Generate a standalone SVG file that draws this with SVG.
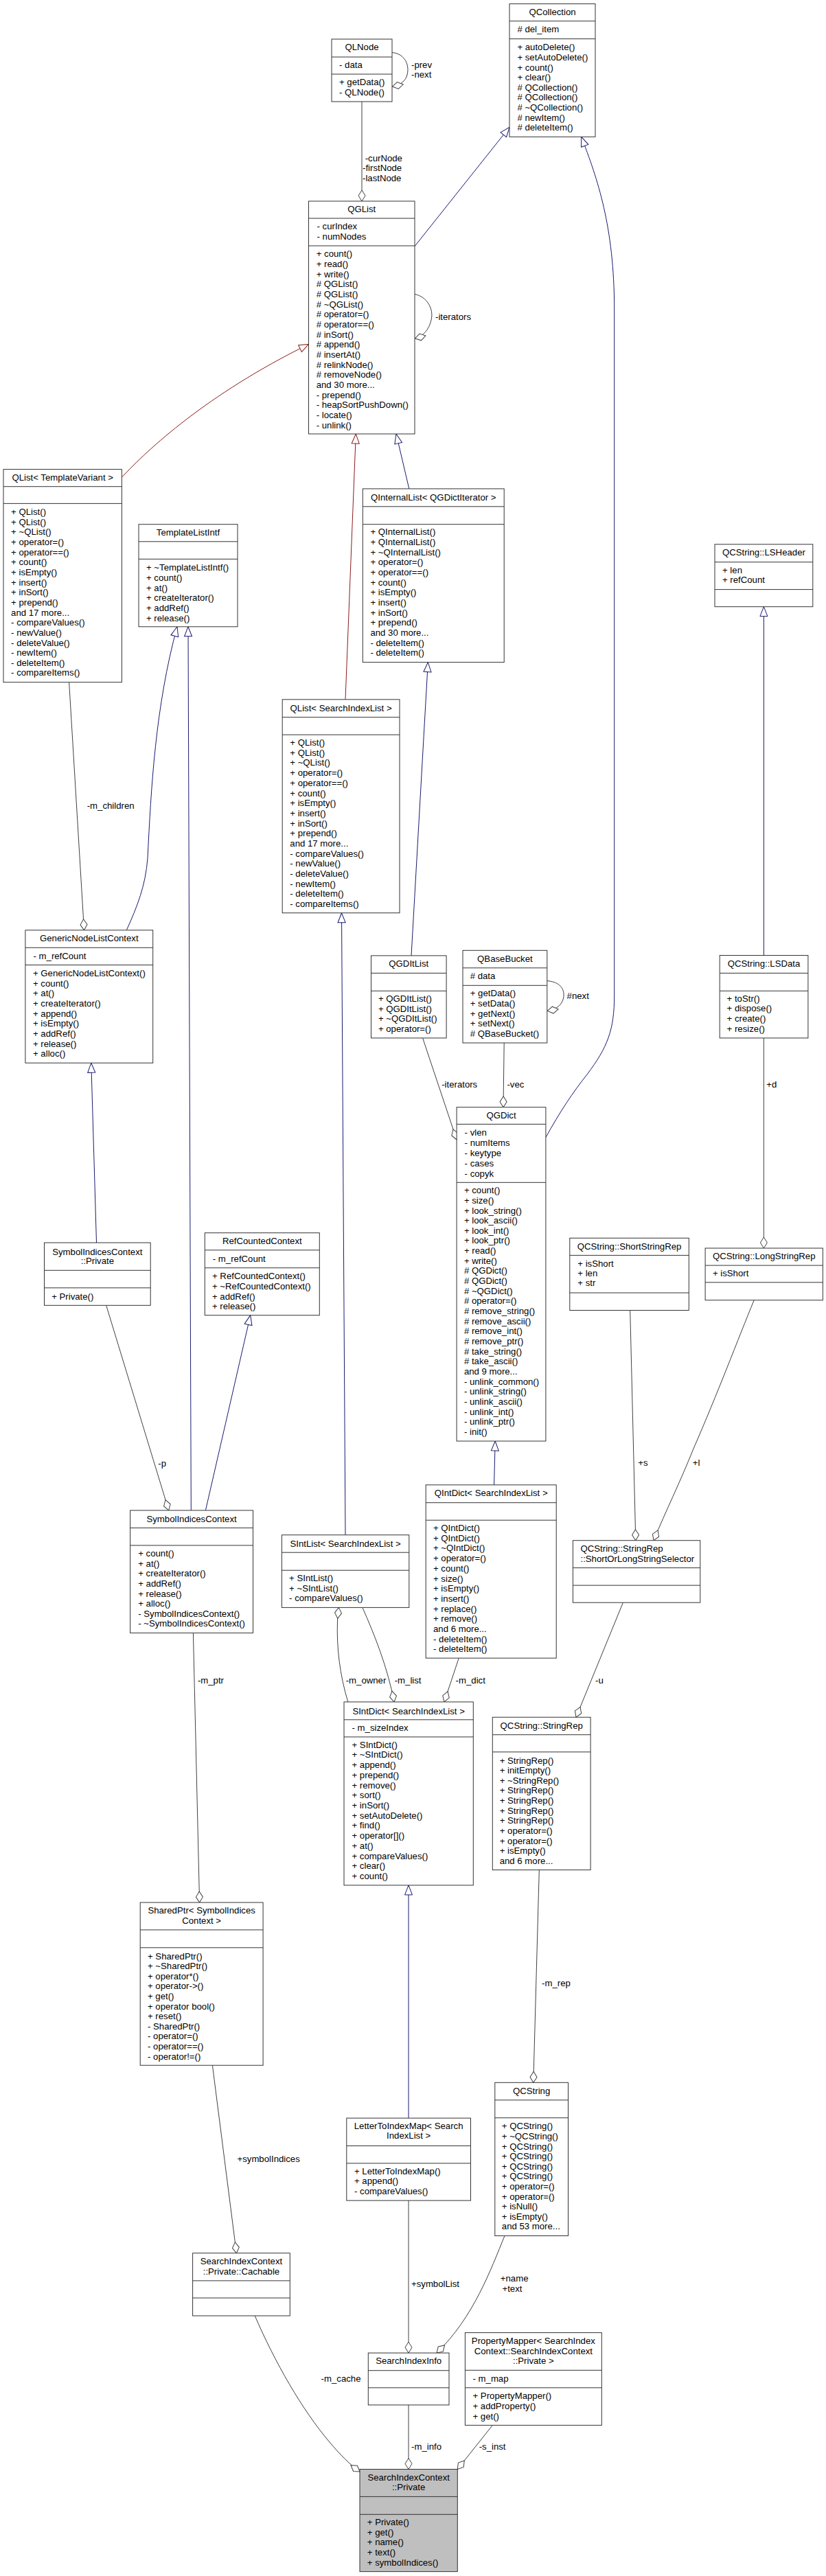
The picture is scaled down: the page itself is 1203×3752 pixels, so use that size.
<svg xmlns="http://www.w3.org/2000/svg" width="1203" height="3752" viewBox="0 0 1203 3752">
<style>
.n rect{fill:#fff;stroke:#333;stroke-width:1}
.n path{fill:none;stroke:#333;stroke-width:1}
.g rect{fill:#bfbfbf}
text{font-family:"Liberation Sans",Arial,Helvetica,sans-serif;font-size:13.2px;fill:#000}
.m{text-anchor:middle}
#edges path{fill:none;stroke-width:1}
.a{stroke:#404040;marker-end:url(#dia)}
.b{stroke:#191970;marker-end:url(#tb)}
.r{stroke:#8b1a1a;marker-end:url(#tr)}
</style>
<defs>
<marker id="dia" markerUnits="userSpaceOnUse" markerWidth="18" markerHeight="12" viewBox="-1 -1 18 12" refX="16" refY="5" orient="auto"><path d="M0,5 L8,0 L16,5 L8,10 Z" fill="#fff" stroke="#404040"/></marker>
<marker id="tb" markerUnits="userSpaceOnUse" markerWidth="16" markerHeight="13" viewBox="-1 -1 16 13" refX="14" refY="5.5" orient="auto"><path d="M0,0 L14,5.5 L0,11 Z" fill="#fff" stroke="#191970"/></marker>
<marker id="tr" markerUnits="userSpaceOnUse" markerWidth="16" markerHeight="13" viewBox="-1 -1 16 13" refX="14" refY="5.5" orient="auto"><path d="M0,0 L14,5.5 L0,11 Z" fill="#fff" stroke="#8b1a1a"/></marker>
</defs>
<rect width="1203" height="3752" fill="#fff"/>

<g id="edges">
<path class="a" d="M571,76.5 C590,78 598,96 592,112 C589,119 582,124 571.5,126"/>
<text x="599" y="99.2">-prev</text><text x="599" y="113.1">-next</text>
<path class="a" d="M527,148 L527,293"/>
<text x="531.7" y="235.1">-curNode</text><text x="528" y="249">-firstNode</text><text x="528" y="263.7">-lastNode</text>
<path class="b" d="M604,358.7 L742,185.3"/>
<path class="a" d="M604,428.5 C622,432 632,450 628,466 C625,480 616,490 604.5,493"/>
<text x="634" y="466.3">-iterators</text>
<path class="r" d="M177.8,694.8 C215,655 300,575 449.5,501.4"/>
<path class="r" d="M503,1018.8 L518.3,632"/>
<path class="b" d="M595.8,711.9 L577,632"/>
<path class="b" d="M184.3,1354.8 C200,1320 212,1290 215,1250 C220,1150 226,1030 258,912.8"/>
<path class="b" d="M278.3,2199.9 L274,912.8"/>
<path class="a" d="M100.6,993.7 L122.5,1354.8"/>
<text x="126.7" y="1178.2">-m_children</text>
<path class="b" d="M140.5,1810 L132.8,1548.2"/>
<path class="b" d="M503,2235.7 L497.5,1329.7"/>
<path class="b" d="M599,1391.9 L623.3,964.6"/>
<path class="b" d="M794.9,1656.6 C815,1620 835,1590 855,1565 C885,1525 894.7,1500 894.7,1450 L894.7,450 C894.7,330 870,260 846.7,199.3"/>
<path class="b" d="M1112.4,1391.5 L1112.4,883.7"/>
<path class="a" d="M615.6,1511.9 L665.1,1660"/>
<text x="643.2" y="1584.3">-iterators</text>
<path class="a" d="M734.2,1519 L733,1612.7"/>
<text x="738.4" y="1584.3">-vec</text>
<path class="a" d="M796.8,1428.6 C815,1430 822,1440 821,1451 C820,1462 812,1470 797.3,1472.4"/>
<text x="825.6" y="1455.2">#next</text>
<path class="a" d="M1112.4,1511.9 L1112.4,1818"/>
<text x="1116.2" y="1584.3">+d</text>
<path class="a" d="M154.7,1901.3 L245.7,2199.9"/>
<text x="230.3" y="2136">-p</text>
<path class="b" d="M299.4,2199.9 L364.7,1915.7"/>
<path class="b" d="M719.6,2162.8 L721.2,2099"/>
<path class="a" d="M917.7,1908.5 L925.8,2243.7"/>
<text x="929.2" y="2135.2">+s</text>
<path class="a" d="M1098.2,1893.7 C1075,1950 1045,2030 1010,2110 C990,2160 970,2200 952,2243.7"/>
<text x="1008.7" y="2135.2">+l</text>
<path class="a" d="M907.4,2334.2 L839,2501.2"/>
<text x="867" y="2451.7">-u</text>
<path class="a" d="M506.8,2478.9 C495,2440 490,2400 491.5,2360 L493.3,2341.4"/>
<text x="503.7" y="2451.7">-m_owner</text>
<path class="a" d="M527.9,2341.4 C545,2380 565,2430 574,2478.9"/>
<text x="574.7" y="2451.7">-m_list</text>
<path class="a" d="M668.2,2415.1 L647,2478.9"/>
<text x="663.6" y="2451.7">-m_dict</text>
<path class="a" d="M281.4,2378.4 L290.6,2771"/>
<text x="287.9" y="2451.7">-m_ptr</text>
<path class="b" d="M595,3085.1 L595,2745.9"/>
<path class="a" d="M785.3,2723.6 L776.8,3033.3"/>
<text x="789.1" y="2893.3">-m_rep</text>
<path class="a" d="M309.4,3008.2 L344.4,3281.7"/>
<text x="345.5" y="3149.2">+symbolIndices</text>
<path class="a" d="M595,3205.1 L595,3427.1"/>
<text x="599" y="3331">+symbolList</text>
<path class="a" d="M735,3256.5 C715,3305 690,3375 636,3427.1"/>
<text x="728.8" y="3323.4">+name</text><text x="731.5" y="3338.2">+text</text>
<path class="a" d="M371.2,3373 C400,3440 440,3510 480,3557 C495,3575 510,3590 524,3600"/>
<text x="467.6" y="3469.3">-m_cache</text>
<path class="a" d="M595,3502.9 L595,3596.5"/>
<text x="599" y="3568.2">-m_info</text>
<path class="a" d="M717.3,3532.4 L666.3,3596.5"/>
<text x="697.7" y="3568.2">-s_inst</text>
</g>

<g id="QLNode" class="n"><rect x="483" y="57" width="88" height="91"/><path d="M483,83H571M483,108H571"/>
<text class="m" x="527" y="73.3">QLNode</text><text x="494" y="99.2">- data</text>
<text y="124.3"><tspan x="494">+ getData()</tspan><tspan x="494" dy="14.7">- QLNode()</tspan></text></g>

<g id="QCollection" class="n"><rect x="742" y="5.6" width="125" height="193.7"/><path d="M742,30.7H867M742,56.6H867"/>
<text class="m" x="804.5" y="22.2">QCollection</text><text x="753.4" y="47"># del_item</text>
<text y="73.3"><tspan x="753.4">+ autoDelete()</tspan><tspan x="753.4" dy="14.6">+ setAutoDelete()</tspan><tspan x="753.4" dy="14.6">+ count()</tspan><tspan x="753.4" dy="14.6">+ clear()</tspan><tspan x="753.4" dy="14.6"># QCollection()</tspan><tspan x="753.4" dy="14.6"># QCollection()</tspan><tspan x="753.4" dy="14.6"># ~QCollection()</tspan><tspan x="753.4" dy="14.6"># newItem()</tspan><tspan x="753.4" dy="14.6"># deleteItem()</tspan></text></g>

<g id="QGList" class="n"><rect x="449.5" y="293" width="154.5" height="339"/><path d="M449.5,318H604M449.5,358H604"/>
<text class="m" x="526.75" y="308.7">QGList</text>
<text y="333.7"><tspan x="461.5">- curIndex</tspan><tspan x="461.5" dy="15.4">- numNodes</tspan></text>
<text y="374.2"><tspan x="460.7">+ count()</tspan><tspan x="460.7" dy="14.68">+ read()</tspan><tspan x="460.7" dy="14.68">+ write()</tspan><tspan x="460.7" dy="14.68"># QGList()</tspan><tspan x="460.7" dy="14.68"># QGList()</tspan><tspan x="460.7" dy="14.68"># ~QGList()</tspan><tspan x="460.7" dy="14.68"># operator=()</tspan><tspan x="460.7" dy="14.68"># operator==()</tspan><tspan x="460.7" dy="14.68"># inSort()</tspan><tspan x="460.7" dy="14.68"># append()</tspan><tspan x="460.7" dy="14.68"># insertAt()</tspan><tspan x="460.7" dy="14.68"># relinkNode()</tspan><tspan x="460.7" dy="14.68"># removeNode()</tspan><tspan x="460.7" dy="14.68">and 30 more...</tspan><tspan x="460.7" dy="14.68">- prepend()</tspan><tspan x="460.7" dy="14.68">- heapSortPushDown()</tspan><tspan x="460.7" dy="14.68">- locate()</tspan><tspan x="460.7" dy="14.68">- unlink()</tspan></text></g>

<g id="QListTemplateVariant" class="n"><rect x="5" y="683.6" width="172.4" height="310.1"/><path d="M5,708.7H177.4M5,733.4H177.4"/>
<text class="m" x="91.2" y="699.5">QList&lt; TemplateVariant &gt;</text>
<text y="750.1"><tspan x="16.1">+ QList()</tspan><tspan x="16.1" dy="14.65">+ QList()</tspan><tspan x="16.1" dy="14.65">+ ~QList()</tspan><tspan x="16.1" dy="14.65">+ operator=()</tspan><tspan x="16.1" dy="14.65">+ operator==()</tspan><tspan x="16.1" dy="14.65">+ count()</tspan><tspan x="16.1" dy="14.65">+ isEmpty()</tspan><tspan x="16.1" dy="14.65">+ insert()</tspan><tspan x="16.1" dy="14.65">+ inSort()</tspan><tspan x="16.1" dy="14.65">+ prepend()</tspan><tspan x="16.1" dy="14.65">and 17 more...</tspan><tspan x="16.1" dy="14.65">- compareValues()</tspan><tspan x="16.1" dy="14.65">- newValue()</tspan><tspan x="16.1" dy="14.65">- deleteValue()</tspan><tspan x="16.1" dy="14.65">- newItem()</tspan><tspan x="16.1" dy="14.65">- deleteItem()</tspan><tspan x="16.1" dy="14.65">- compareItems()</tspan></text></g>

<g id="TemplateListIntf" class="n"><rect x="202" y="763.7" width="144" height="149.1"/><path d="M202,788.8H346M202,814.3H346"/>
<text class="m" x="274" y="780">TemplateListIntf</text>
<text y="831.4"><tspan x="213">+ ~TemplateListIntf()</tspan><tspan x="213" dy="14.65">+ count()</tspan><tspan x="213" dy="14.65">+ at()</tspan><tspan x="213" dy="14.65">+ createIterator()</tspan><tspan x="213" dy="14.65">+ addRef()</tspan><tspan x="213" dy="14.65">+ release()</tspan></text></g>

<g id="QInternalList" class="n"><rect x="528.3" y="711.9" width="205.9" height="252.7"/><path d="M528.3,737.8H734.2M528.3,763.7H734.2"/>
<text class="m" x="631.25" y="729">QInternalList&lt; QGDictIterator &gt;</text>
<text y="779.2"><tspan x="539.4">+ QInternalList()</tspan><tspan x="539.4" dy="14.68">+ QInternalList()</tspan><tspan x="539.4" dy="14.68">+ ~QInternalList()</tspan><tspan x="539.4" dy="14.68">+ operator=()</tspan><tspan x="539.4" dy="14.68">+ operator==()</tspan><tspan x="539.4" dy="14.68">+ count()</tspan><tspan x="539.4" dy="14.68">+ isEmpty()</tspan><tspan x="539.4" dy="14.68">+ insert()</tspan><tspan x="539.4" dy="14.68">+ inSort()</tspan><tspan x="539.4" dy="14.68">+ prepend()</tspan><tspan x="539.4" dy="14.68">and 30 more...</tspan><tspan x="539.4" dy="14.68">- deleteItem()</tspan><tspan x="539.4" dy="14.68">- deleteItem()</tspan></text></g>

<g id="QListSearchIndexList" class="n"><rect x="411.2" y="1018.8" width="170.8" height="310.9"/><path d="M411.2,1044.7H582M411.2,1070.2H582"/>
<text class="m" x="496.6" y="1035.5">QList&lt; SearchIndexList &gt;</text>
<text y="1086.1"><tspan x="422.3">+ QList()</tspan><tspan x="422.3" dy="14.68">+ QList()</tspan><tspan x="422.3" dy="14.68">+ ~QList()</tspan><tspan x="422.3" dy="14.68">+ operator=()</tspan><tspan x="422.3" dy="14.68">+ operator==()</tspan><tspan x="422.3" dy="14.68">+ count()</tspan><tspan x="422.3" dy="14.68">+ isEmpty()</tspan><tspan x="422.3" dy="14.68">+ insert()</tspan><tspan x="422.3" dy="14.68">+ inSort()</tspan><tspan x="422.3" dy="14.68">+ prepend()</tspan><tspan x="422.3" dy="14.68">and 17 more...</tspan><tspan x="422.3" dy="14.68">- compareValues()</tspan><tspan x="422.3" dy="14.68">- newValue()</tspan><tspan x="422.3" dy="14.68">- deleteValue()</tspan><tspan x="422.3" dy="14.68">- newItem()</tspan><tspan x="422.3" dy="14.68">- deleteItem()</tspan><tspan x="422.3" dy="14.68">- compareItems()</tspan></text></g>

<g id="LSHeader" class="n"><rect x="1041" y="792.8" width="142.8" height="90.9"/><path d="M1041,818.7H1183.8M1041,858.6H1183.8"/>
<text class="m" x="1112.4" y="809.1">QCString::LSHeader</text>
<text y="835"><tspan x="1052">+ len</tspan><tspan x="1052" dy="13.9">+ refCount</tspan></text></g>

<g id="GenericNodeListContext" class="n"><rect x="36.9" y="1354.8" width="185.8" height="193.4"/><path d="M36.9,1380.3H222.7M36.9,1405.5H222.7"/>
<text class="m" x="129.8" y="1371.1">GenericNodeListContext</text><text x="48.5" y="1397">- m_refCount</text>
<text y="1422.1"><tspan x="48">+ GenericNodeListContext()</tspan><tspan x="48" dy="14.65">+ count()</tspan><tspan x="48" dy="14.65">+ at()</tspan><tspan x="48" dy="14.65">+ createIterator()</tspan><tspan x="48" dy="14.65">+ append()</tspan><tspan x="48" dy="14.65">+ isEmpty()</tspan><tspan x="48" dy="14.65">+ addRef()</tspan><tspan x="48" dy="14.65">+ release()</tspan><tspan x="48" dy="14.65">+ alloc()</tspan></text></g>

<g id="QGDItList" class="n"><rect x="540.5" y="1391.9" width="109.6" height="120"/><path d="M540.5,1417.4H650.1M540.5,1443.3H650.1"/>
<text class="m" x="595.3" y="1408.2">QGDItList</text>
<text y="1458.7"><tspan x="550.9">+ QGDItList()</tspan><tspan x="550.9" dy="14.8">+ QGDItList()</tspan><tspan x="550.9" dy="14.8">+ ~QGDItList()</tspan><tspan x="550.9" dy="14.8">+ operator=()</tspan></text></g>

<g id="QBaseBucket" class="n"><rect x="674" y="1384.3" width="122.8" height="134.7"/><path d="M674,1409.8H796.8M674,1435.3H796.8"/>
<text class="m" x="735.4" y="1401">QBaseBucket</text><text x="684.7" y="1426.1"># data</text>
<text y="1451.2"><tspan x="684.7">+ getData()</tspan><tspan x="684.7" dy="14.65">+ setData()</tspan><tspan x="684.7" dy="14.65">+ getNext()</tspan><tspan x="684.7" dy="14.65">+ setNext()</tspan><tspan x="684.7" dy="14.65"># QBaseBucket()</tspan></text></g>

<g id="LSData" class="n"><rect x="1048.2" y="1391.5" width="128.7" height="120.4"/><path d="M1048.2,1417.4H1176.9M1048.2,1443.3H1176.9"/>
<text class="m" x="1112.55" y="1408.2">QCString::LSData</text>
<text y="1458.8"><tspan x="1058.6">+ toStr()</tspan><tspan x="1058.6" dy="14.65">+ dispose()</tspan><tspan x="1058.6" dy="14.65">+ create()</tspan><tspan x="1058.6" dy="14.65">+ resize()</tspan></text></g>

<g id="QGDict" class="n"><rect x="665.1" y="1612.7" width="129.8" height="486.3"/><path d="M665.1,1637.4H794.9M665.1,1722.3H794.9"/>
<text class="m" x="730" y="1629.4">QGDict</text>
<text y="1654.1"><tspan x="676.6">- vlen</tspan><tspan x="676.6" dy="14.85">- numItems</tspan><tspan x="676.6" dy="14.85">- keytype</tspan><tspan x="676.6" dy="14.85">- cases</tspan><tspan x="676.6" dy="14.85">- copyk</tspan></text>
<text y="1738.2"><tspan x="675.9">+ count()</tspan><tspan x="675.9" dy="14.65">+ size()</tspan><tspan x="675.9" dy="14.65">+ look_string()</tspan><tspan x="675.9" dy="14.65">+ look_ascii()</tspan><tspan x="675.9" dy="14.65">+ look_int()</tspan><tspan x="675.9" dy="14.65">+ look_ptr()</tspan><tspan x="675.9" dy="14.65">+ read()</tspan><tspan x="675.9" dy="14.65">+ write()</tspan><tspan x="675.9" dy="14.65"># QGDict()</tspan><tspan x="675.9" dy="14.65"># QGDict()</tspan><tspan x="675.9" dy="14.65"># ~QGDict()</tspan><tspan x="675.9" dy="14.65"># operator=()</tspan><tspan x="675.9" dy="14.65"># remove_string()</tspan><tspan x="675.9" dy="14.65"># remove_ascii()</tspan><tspan x="675.9" dy="14.65"># remove_int()</tspan><tspan x="675.9" dy="14.65"># remove_ptr()</tspan><tspan x="675.9" dy="14.65"># take_string()</tspan><tspan x="675.9" dy="14.65"># take_ascii()</tspan><tspan x="675.9" dy="14.65">and 9 more...</tspan><tspan x="675.9" dy="14.65">- unlink_common()</tspan><tspan x="675.9" dy="14.65">- unlink_string()</tspan><tspan x="675.9" dy="14.65">- unlink_ascii()</tspan><tspan x="675.9" dy="14.65">- unlink_int()</tspan><tspan x="675.9" dy="14.65">- unlink_ptr()</tspan><tspan x="675.9" dy="14.65">- init()</tspan></text></g>

<g id="SymbolIndicesContextPrivate" class="n"><rect x="64.5" y="1810" width="154.7" height="91.3"/><path d="M64.5,1850.3H219.2M64.5,1875.8H219.2"/>
<text class="m" x="141.85" y="1827.5">SymbolIndicesContext</text><text class="m" x="141.85" y="1841">::Private</text>
<text x="75.2" y="1892.5">+ Private()</text></g>

<g id="RefCountedContext" class="n"><rect x="298.3" y="1795.7" width="167" height="120"/><path d="M298.3,1820.8H465.3M298.3,1846.7H465.3"/>
<text class="m" x="381.8" y="1811.9">RefCountedContext</text><text x="309.8" y="1837.5">- m_refCount</text>
<text y="1863.4"><tspan x="309">+ RefCountedContext()</tspan><tspan x="309" dy="14.65">+ ~RefCountedContext()</tspan><tspan x="309" dy="14.65">+ addRef()</tspan><tspan x="309" dy="14.65">+ release()</tspan></text></g>

<g id="ShortStringRep" class="n"><rect x="829.8" y="1803.3" width="173.5" height="105.2"/><path d="M829.8,1828.4H1003.3M829.8,1883H1003.3"/>
<text class="m" x="916.55" y="1819.5">QCString::ShortStringRep</text>
<text y="1845"><tspan x="841.3">+ isShort</tspan><tspan x="841.3" dy="14">+ len</tspan><tspan x="841.3" dy="14">+ str</tspan></text></g>

<g id="LongStringRep" class="n"><rect x="1027.1" y="1818" width="171.3" height="75.7"/><path d="M1027.1,1843.1H1198.4M1027.1,1867.8H1198.4"/>
<text class="m" x="1112.75" y="1833.9">QCString::LongStringRep</text><text x="1037.9" y="1859.4">+ isShort</text></g>

<g id="SymbolIndicesContext" class="n"><rect x="189.6" y="2199.9" width="178.9" height="178.5"/><path d="M189.6,2225.4H368.5M189.6,2250.9H368.5"/>
<text class="m" x="279.05" y="2216.5">SymbolIndicesContext</text>
<text y="2267.1"><tspan x="201.2">+ count()</tspan><tspan x="201.2" dy="14.6">+ at()</tspan><tspan x="201.2" dy="14.6">+ createIterator()</tspan><tspan x="201.2" dy="14.6">+ addRef()</tspan><tspan x="201.2" dy="14.6">+ release()</tspan><tspan x="201.2" dy="14.6">+ alloc()</tspan><tspan x="201.2" dy="14.6">- SymbolIndicesContext()</tspan><tspan x="201.2" dy="14.6">- ~SymbolIndicesContext()</tspan></text></g>

<g id="QIntDict" class="n"><rect x="620.2" y="2162.8" width="190" height="252.3"/><path d="M620.2,2188.7H810.2M620.2,2214.2H810.2"/>
<text class="m" x="715.2" y="2179.1">QIntDict&lt; SearchIndexList &gt;</text>
<text y="2230.1"><tspan x="631">+ QIntDict()</tspan><tspan x="631" dy="14.68">+ QIntDict()</tspan><tspan x="631" dy="14.68">+ ~QIntDict()</tspan><tspan x="631" dy="14.68">+ operator=()</tspan><tspan x="631" dy="14.68">+ count()</tspan><tspan x="631" dy="14.68">+ size()</tspan><tspan x="631" dy="14.68">+ isEmpty()</tspan><tspan x="631" dy="14.68">+ insert()</tspan><tspan x="631" dy="14.68">+ replace()</tspan><tspan x="631" dy="14.68">+ remove()</tspan><tspan x="631" dy="14.68">and 6 more...</tspan><tspan x="631" dy="14.68">- deleteItem()</tspan><tspan x="631" dy="14.68">- deleteItem()</tspan></text></g>

<g id="SIntList" class="n"><rect x="410.4" y="2235.7" width="185.4" height="105.7"/><path d="M410.4,2261.2H595.8M410.4,2287.2H595.8"/>
<text class="m" x="503.1" y="2253.2">SIntList&lt; SearchIndexList &gt;</text>
<text y="2303"><tspan x="421.1">+ SIntList()</tspan><tspan x="421.1" dy="14.65">+ ~SIntList()</tspan><tspan x="421.1" dy="14.65">- compareValues()</tspan></text></g>

<g id="ShortOrLongStringSelector" class="n"><rect x="834.4" y="2243.7" width="185.4" height="90.5"/><path d="M834.4,2283.6H1019.8M834.4,2309.1H1019.8"/>
<text x="845.5" y="2260.4">QCString::StringRep</text><text x="845.5" y="2274.7">::ShortOrLongStringSelector</text></g>

<g id="SIntDict" class="n"><rect x="501" y="2478.9" width="188.3" height="267"/><path d="M501,2504.8H689.3M501,2529.9H689.3"/>
<text class="m" x="595.15" y="2496.5">SIntDict&lt; SearchIndexList &gt;</text><text x="512.5" y="2521.4">- m_sizeIndex</text>
<text y="2545.7"><tspan x="512.5">+ SIntDict()</tspan><tspan x="512.5" dy="14.72">+ ~SIntDict()</tspan><tspan x="512.5" dy="14.72">+ append()</tspan><tspan x="512.5" dy="14.72">+ prepend()</tspan><tspan x="512.5" dy="14.72">+ remove()</tspan><tspan x="512.5" dy="14.72">+ sort()</tspan><tspan x="512.5" dy="14.72">+ inSort()</tspan><tspan x="512.5" dy="14.72">+ setAutoDelete()</tspan><tspan x="512.5" dy="14.72">+ find()</tspan><tspan x="512.5" dy="14.72">+ operator[]()</tspan><tspan x="512.5" dy="14.72">+ at()</tspan><tspan x="512.5" dy="14.72">+ compareValues()</tspan><tspan x="512.5" dy="14.72">+ clear()</tspan><tspan x="512.5" dy="14.72">+ count()</tspan></text></g>

<g id="StringRep" class="n"><rect x="717.3" y="2501.2" width="142.8" height="222.4"/><path d="M717.3,2526.7H860.1M717.3,2551.8H860.1"/>
<text class="m" x="788.7" y="2517.5">QCString::StringRep</text>
<text y="2568.5"><tspan x="727.7">+ StringRep()</tspan><tspan x="727.7" dy="14.63">+ initEmpty()</tspan><tspan x="727.7" dy="14.63">+ ~StringRep()</tspan><tspan x="727.7" dy="14.63">+ StringRep()</tspan><tspan x="727.7" dy="14.63">+ StringRep()</tspan><tspan x="727.7" dy="14.63">+ StringRep()</tspan><tspan x="727.7" dy="14.63">+ StringRep()</tspan><tspan x="727.7" dy="14.63">+ operator=()</tspan><tspan x="727.7" dy="14.63">+ operator=()</tspan><tspan x="727.7" dy="14.63">+ isEmpty()</tspan><tspan x="727.7" dy="14.63">and 6 more...</tspan></text></g>

<g id="SharedPtr" class="n"><rect x="204.2" y="2771" width="178.9" height="237.2"/><path d="M204.2,2810.9H383.1M204.2,2836.8H383.1"/>
<text class="m" x="293.65" y="2786.9">SharedPtr&lt; SymbolIndices</text><text class="m" x="293.65" y="2802.1">Context &gt;</text>
<text y="2853.5"><tspan x="215">+ SharedPtr()</tspan><tspan x="215" dy="14.6">+ ~SharedPtr()</tspan><tspan x="215" dy="14.6">+ operator*()</tspan><tspan x="215" dy="14.6">+ operator-&gt;()</tspan><tspan x="215" dy="14.6">+ get()</tspan><tspan x="215" dy="14.6">+ operator bool()</tspan><tspan x="215" dy="14.6">+ reset()</tspan><tspan x="215" dy="14.6">- SharedPtr()</tspan><tspan x="215" dy="14.6">- operator=()</tspan><tspan x="215" dy="14.6">- operator==()</tspan><tspan x="215" dy="14.6">- operator!=()</tspan></text></g>

<g id="QCString" class="n"><rect x="720.8" y="3033.3" width="106.7" height="223.2"/><path d="M720.8,3058.8H827.5M720.8,3084.7H827.5"/>
<text class="m" x="774.15" y="3050">QCString</text>
<text y="3101.4"><tspan x="730.8">+ QCString()</tspan><tspan x="730.8" dy="14.59">+ ~QCString()</tspan><tspan x="730.8" dy="14.59">+ QCString()</tspan><tspan x="730.8" dy="14.59">+ QCString()</tspan><tspan x="730.8" dy="14.59">+ QCString()</tspan><tspan x="730.8" dy="14.59">+ QCString()</tspan><tspan x="730.8" dy="14.59">+ operator=()</tspan><tspan x="730.8" dy="14.59">+ operator=()</tspan><tspan x="730.8" dy="14.59">+ isNull()</tspan><tspan x="730.8" dy="14.59">+ isEmpty()</tspan><tspan x="730.8" dy="14.59">and 53 more...</tspan></text></g>

<g id="LetterToIndexMap" class="n"><rect x="504.8" y="3085.1" width="180.7" height="120"/><path d="M504.8,3125.5H685.5M504.8,3150.9H685.5"/>
<text class="m" x="595.15" y="3101.4">LetterToIndexMap&lt; Search</text><text class="m" x="595.15" y="3115.3">IndexList &gt;</text>
<text y="3166.8"><tspan x="516">+ LetterToIndexMap()</tspan><tspan x="516" dy="14.5">+ append()</tspan><tspan x="516" dy="14.5">- compareValues()</tspan></text></g>

<g id="Cachable" class="n"><rect x="280.6" y="3281.7" width="141.7" height="91.3"/><path d="M280.6,3321.9H422.3M280.6,3347H422.3"/>
<text class="m" x="351.45" y="3297.9">SearchIndexContext</text><text class="m" x="351.45" y="3313.1">::Private::Cachable</text></g>

<g id="PropertyMapper" class="n"><rect x="677.4" y="3397.6" width="198.9" height="134.8"/><path d="M677.4,3452.3H876.3M677.4,3477.8H876.3"/>
<text class="m" x="776.85" y="3413.9">PropertyMapper&lt; SearchIndex</text><text class="m" x="776.85" y="3429.1">Context::SearchIndexContext</text><text class="m" x="776.85" y="3443">::Private &gt;</text>
<text x="688.5" y="3469.3">- m_map</text>
<text y="3494.4"><tspan x="688.5">+ PropertyMapper()</tspan><tspan x="688.5" dy="14.6">+ addProperty()</tspan><tspan x="688.5" dy="14.6">+ get()</tspan></text></g>

<g id="SearchIndexInfo" class="n"><rect x="536.3" y="3427.1" width="117.7" height="75.8"/><path d="M536.3,3452.7H654M536.3,3477.8H654"/>
<text class="m" x="595.15" y="3442.6">SearchIndexInfo</text></g>

<g id="SearchIndexContextPrivate" class="n g"><rect x="524" y="3596.5" width="142.3" height="149.1"/><path d="M524,3636.4H666.3M524,3662.3H666.3"/>
<text class="m" x="595.15" y="3613.2">SearchIndexContext</text><text class="m" x="595.15" y="3627.2">::Private</text>
<text y="3677.8"><tspan x="534.8">+ Private()</tspan><tspan x="534.8" dy="14.75">+ get()</tspan><tspan x="534.8" dy="14.75">+ name()</tspan><tspan x="534.8" dy="14.75">+ text()</tspan><tspan x="534.8" dy="14.75">+ symbolIndices()</tspan></text></g>
</svg>
